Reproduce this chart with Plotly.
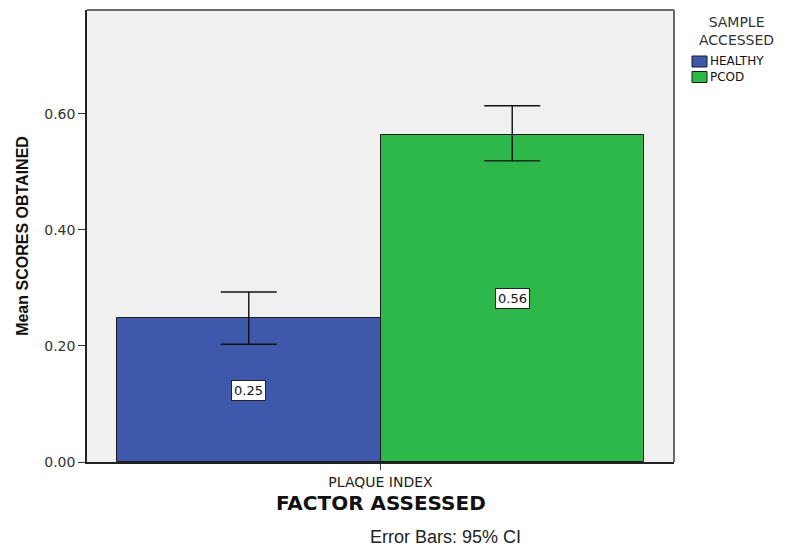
import plotly.graph_objects as go

# Mean scores per sample group with 95% CI bounds
factor = "PLAQUE INDEX"
groups = ["HEALTHY", "PCOD"]
means = [0.248, 0.564]
ci_upper = [0.293, 0.614]
ci_lower = [0.203, 0.519]
bar_colors = ["#3e58ac", "#2eb84a"]
y_ticks = [0.0, 0.2, 0.4, 0.6]

# clustered bar positions around the single category at x=0
offsets = [-0.5, 0.5]

WIDE = "DejaVu Sans"
ARIAL = "Liberation Sans"

# plot area in pixels (for placing the side key)
L, R, T, B, W, H = 87, 114, 10, 84, 788, 546
PW, PH = W - L - R, H - T - B


def px_x(x):
    return (x - L) / PW


def px_y(y):
    return (H - B - y) / PH


fig = go.Figure()
for g, m, hi, lo, c, off in zip(groups, means, ci_upper, ci_lower, bar_colors, offsets):
    fig.add_trace(go.Bar(
        x=[off], y=[m], width=[1.0], name=g, showlegend=False,
        marker=dict(color=c, line=dict(color="#1a1a1a", width=1)),
        error_y=dict(type="data", symmetric=False, array=[hi - m], arrayminus=[m - lo],
                     color="#111111", thickness=1.4, width=28),
    ))
    fig.add_annotation(x=off, y=m / 2, text=f"{m:.2f}", showarrow=False,
                       font=dict(family=WIDE, size=13, color="#111111"),
                       bgcolor="white", bordercolor="#222222", borderwidth=1, borderpad=2)

# axis title and footnote
fig.add_annotation(x=0.5, y=px_y(503), xref="paper", yref="paper", text="<b>FACTOR ASSESSED</b>",
                   showarrow=False, xanchor="center", yanchor="middle",
                   font=dict(family=WIDE, size=20, color="#111111"))
fig.add_annotation(x=px_x(445), y=px_y(537), xref="paper", yref="paper", text="Error Bars: 95% CI",
                   showarrow=False, xanchor="center", yanchor="middle",
                   font=dict(family=ARIAL, size=18, color="#222222"))

# key: title and colour swatches with their names
fig.add_annotation(x=px_x(736), y=px_y(31), xref="paper", yref="paper", text="SAMPLE<br>ACCESSED",
                   showarrow=False, xanchor="center", yanchor="middle", align="center",
                   font=dict(family=WIDE, size=14, color="#333333"))
for i, c in enumerate(bar_colors):
    y0 = 56 + 15.5 * i
    fig.add_shape(type="rect", xref="paper", yref="paper",
                  x0=px_x(692), x1=px_x(707), y0=px_y(y0 + 11), y1=px_y(y0),
                  fillcolor=c, line=dict(color="#1a1a1a", width=1))
fig.add_annotation(x=px_x(708), y=px_y(69.5), xref="paper", yref="paper", text="<br>".join(groups),
                   showarrow=False, xanchor="left", yanchor="middle", align="left",
                   font=dict(family=WIDE, size=12, color="#111111"))

# plot frame: grey top/right edges
fig.add_shape(type="line", xref="paper", yref="paper", x0=0, x1=1, y0=1, y1=1,
              line=dict(color="#6a6a6a", width=2))
fig.add_shape(type="line", xref="paper", yref="paper", x0=1, x1=1, y0=0, y1=1,
              line=dict(color="#6a6a6a", width=2))

fig.update_layout(
    width=W, height=H,
    margin=dict(l=L, r=R, t=T, b=B, autoexpand=False),
    paper_bgcolor="white", plot_bgcolor="#f0f0f0",
    barmode="overlay", bargap=0, showlegend=False,
    font=dict(family=WIDE, color="#222222"),
    xaxis=dict(
        range=[-1.114, 1.114], tickvals=[0], ticktext=[factor],
        ticks="outside", ticklen=6, tickcolor="#333333",
        showline=True, linecolor="#222222", linewidth=1.5,
        showgrid=False, zeroline=False,
        tickfont=dict(family=WIDE, size=14, color="#222222"),
    ),
    yaxis=dict(
        range=[0, 0.779], tickvals=y_ticks, tickformat=".2f",
        ticks="outside", ticklen=7, tickcolor="#333333",
        showline=True, linecolor="#222222", linewidth=1.5,
        showgrid=False, zeroline=False,
        tickfont=dict(family=WIDE, size=14, color="#333333"),
        title=dict(text="<b>Mean SCORES OBTAINED</b>", standoff=12,
                   font=dict(family=ARIAL, size=16, color="#111111")),
    ),
)

fig.write_html("out.html")
